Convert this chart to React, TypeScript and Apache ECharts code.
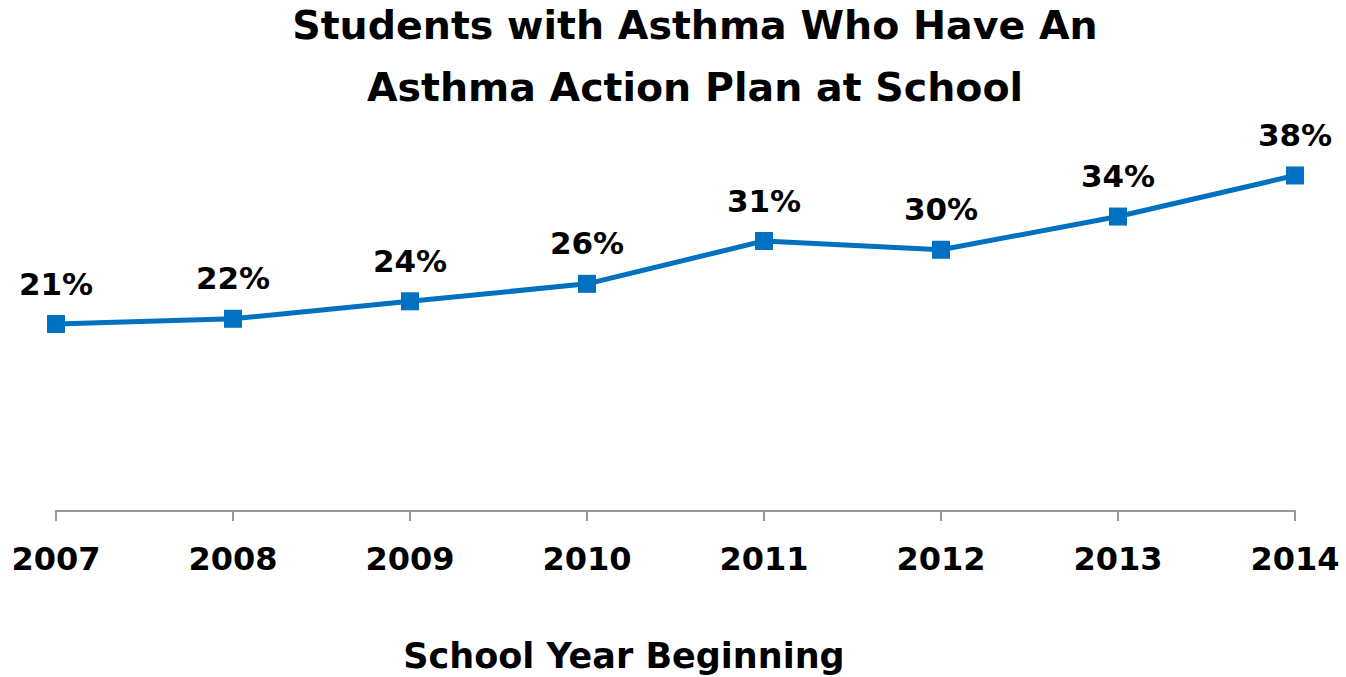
import React, { useEffect, useRef } from "react";
import * as echarts from "echarts";

const titleText = "Students with Asthma Who Have An\nAsthma Action Plan at School";
const axisName = "School Year Beginning";
const years = ["2007", "2008", "2009", "2010", "2011", "2012", "2013", "2014"];
const percentValues = [21.4, 22.0, 24.0, 26.0, 30.9, 29.9, 33.7, 38.4];

const FONT = "'DejaVu Sans', sans-serif";

export default function App() {
  const ref = useRef<HTMLDivElement>(null);
  useEffect(() => {
    if (!ref.current) return;
    const chart = echarts.init(ref.current, null, { renderer: "svg" });
    chart.setOption({
      animation: false,
      backgroundColor: "#ffffff",
      title: {
        text: titleText,
        left: 690,
        textAlign: "center",
        top: -11,
        textStyle: {
          fontFamily: FONT,
          fontWeight: "bold",
          fontSize: 39.5,
          lineHeight: 62,
          color: "#000000",
        },
      },
      grid: { left: 56, right: 51, top: 161.5, bottom: 166, containLabel: false },
      xAxis: {
        type: "category",
        data: years,
        boundaryGap: false,
        axisLine: { show: true, lineStyle: { color: "#999999", width: 2 } },
        axisTick: { show: true, length: 10, lineStyle: { color: "#999999", width: 2 } },
        axisLabel: {
          fontFamily: FONT,
          fontWeight: "bold",
          fontSize: 32,
          color: "#000000",
          margin: 32,
        },
      },
      yAxis: {
        type: "value",
        min: 0,
        max: 40,
        show: false,
        splitLine: { show: false },
      },
      graphic: [
        {
          type: "text",
          x: 624,
          y: 656,
          style: {
            text: axisName,
            fontFamily: FONT,
            fontWeight: "bold",
            fontSize: 35,
            fill: "#000000",
            textAlign: "center",
            textVerticalAlign: "middle",
          },
        },
      ],
      series: [
        {
          type: "line",
          data: percentValues,
          symbol: "rect",
          symbolSize: 18,
          lineStyle: { color: "#0070C0", width: 5 },
          itemStyle: { color: "#0070C0" },
          label: {
            show: true,
            position: "top",
            distance: 16,
            fontFamily: FONT,
            fontWeight: "bold",
            fontSize: 31,
            color: "#000000",
            formatter: (p: any) => Math.round(p.value) + "%",
          },
        },
      ],
    });
    return () => chart.dispose();
  }, []);
  return (
    <div
      ref={ref}
      style={{ position: "fixed", left: 0, top: 0, width: 1346, height: 677 }}
    />
  );
}
